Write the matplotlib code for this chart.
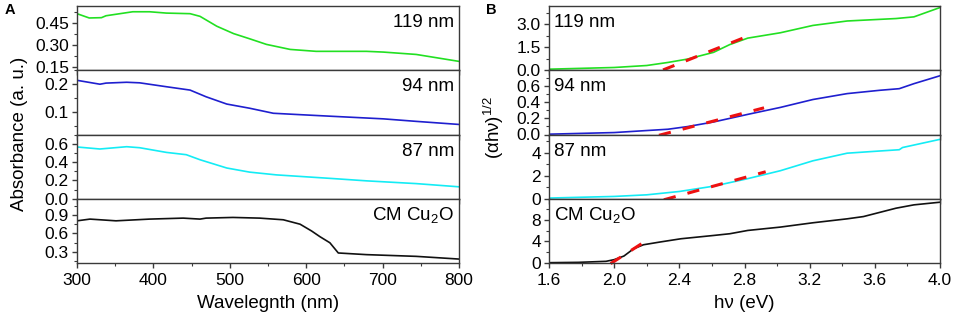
import numpy as np
import matplotlib
matplotlib.use("Agg")
import matplotlib.pyplot as plt
from matplotlib.ticker import AutoMinorLocator, FixedLocator, FormatStrFormatter

plt.rcParams['font.family'] = ['Liberation Sans', 'DejaVu Sans']
plt.rcParams['mathtext.fontset'] = 'custom'
plt.rcParams['mathtext.rm'] = 'Liberation Sans'
plt.rcParams['mathtext.it'] = 'Liberation Sans:italic'

# ---------------- Data: panel A (absorbance vs wavelength) ----------------
wl_119 = [300, 316, 332, 338, 373, 395, 417, 448, 461, 483, 505, 526, 548, 579, 613, 679, 701, 744, 800]
ab_119 = [0.513, 0.484, 0.486, 0.499, 0.526, 0.526, 0.517, 0.513, 0.495, 0.428, 0.378, 0.343, 0.305,
          0.271, 0.258, 0.258, 0.253, 0.237, 0.19]

wl_94 = [300, 330, 338, 365, 382, 417, 448, 469, 496, 526, 557, 592, 635, 701, 744, 800]
ab_94 = [0.214, 0.200, 0.204, 0.207, 0.205, 0.191, 0.179, 0.155, 0.129, 0.114, 0.096, 0.091,
         0.085, 0.076, 0.067, 0.056]

wl_87 = [300, 330, 365, 382, 417, 443, 461, 496, 526, 561, 635, 679, 744, 800]
ab_87 = [0.564, 0.542, 0.567, 0.556, 0.505, 0.48, 0.425, 0.335, 0.29, 0.26, 0.22, 0.195, 0.165, 0.13]

wl_cm = [300, 317, 351, 395, 439, 461, 469, 504, 539, 570, 592, 607, 618, 631, 642, 679, 744, 800]
ab_cm = [0.806, 0.834, 0.806, 0.834, 0.85, 0.834, 0.85, 0.861, 0.85, 0.823, 0.751, 0.641, 0.548,
         0.449, 0.283, 0.256, 0.228, 0.184]

# ---------------- Data: panel B ((alpha h nu)^1/2 vs h nu) ----------------
ev_119 = [1.6, 2.0, 2.2, 2.33, 2.45, 2.61, 2.71, 2.82, 3.02, 3.22, 3.43, 3.73, 3.84, 4.0]
tc_119 = [0.07, 0.18, 0.31, 0.51, 0.73, 1.17, 1.68, 2.1, 2.45, 2.93, 3.22, 3.38, 3.49, 4.1]
fit_119_x = [2.30, 2.805]
fit_119_y = [0.02, 2.16]

ev_94 = [1.6, 2.0, 2.2, 2.33, 2.45, 2.61, 2.82, 3.02, 3.22, 3.43, 3.63, 3.75, 3.84, 4.0]
tc_94 = [0.004, 0.024, 0.049, 0.065, 0.098, 0.155, 0.249, 0.335, 0.433, 0.506, 0.547, 0.567, 0.629, 0.727]
fit_94_x = [2.275, 2.92]
fit_94_y = [-0.01, 0.33]

ev_87 = [1.6, 2.0, 2.2, 2.4, 2.61, 2.81, 3.02, 3.22, 3.43, 3.63, 3.75, 3.77, 4.0]
tc_87 = [0.06, 0.2, 0.34, 0.63, 1.09, 1.71, 2.43, 3.29, 3.95, 4.14, 4.25, 4.44, 5.15]
fit_87_x = [2.305, 2.93]
fit_87_y = [-0.09, 2.34]

ev_cm = [1.6, 1.78, 1.95, 2.0, 2.06, 2.12, 2.18, 2.28, 2.41, 2.61, 2.71, 2.82, 3.02, 3.22, 3.43,
         3.53, 3.73, 3.84, 4.0]
tc_cm = [0.06, 0.12, 0.31, 0.62, 1.29, 2.65, 3.38, 3.88, 4.49, 5.1, 5.42, 6.03, 6.65, 7.45, 8.18,
         8.6, 10.15, 10.77, 11.26]
fit_cm_x = [1.978, 2.19]
fit_cm_y = [-0.12, 4.0]

labels = ['119 nm', '94 nm', '87 nm', 'CM Cu$_2$O']
colors = ['#22e022', '#1f1fcf', '#14ecf5', '#111111']

A_x = [wl_119, wl_94, wl_87, wl_cm]
A_y = [ab_119, ab_94, ab_87, ab_cm]
A_ylim = [(0.13, 0.565), (0.02, 0.25), (0.0, 0.70), (0.12, 1.165)]
A_ticks = [[0.15, 0.30, 0.45], [0.1, 0.2], [0.0, 0.2, 0.4, 0.6], [0.3, 0.6, 0.9]]
A_fmt = ['%.2f', '%.1f', '%.1f', '%.1f']

B_x = [ev_119, ev_94, ev_87, ev_cm]
B_y = [tc_119, tc_94, tc_87, tc_cm]
B_fx = [fit_119_x, fit_94_x, fit_87_x, fit_cm_x]
B_fy = [fit_119_y, fit_94_y, fit_87_y, fit_cm_y]
B_ylim = [(0.0, 4.2), (0.0, 0.795), (0.0, 5.57), (0.0, 11.9)]
B_ticks = [[0.0, 1.5, 3.0], [0.0, 0.2, 0.4, 0.6], [0, 2, 4], [0, 4, 8]]
B_fmt = ['%.1f', '%.1f', '%d', '%d']

W, H = 957, 320
fig = plt.figure(figsize=(W / 100, H / 100), dpi=100)

top_px, bot_px = 6, 263
ph = (bot_px - top_px) / 4.0
spine_c = '#3a3a3a'
TICK_FS = 12.5
TXT_FS = 13.5


def make_axes(x0, x1):
    axs = []
    for i in range(4):
        yt = top_px + i * ph
        ax = fig.add_axes([x0 / W, 1 - (yt + ph) / H, (x1 - x0) / W, ph / H])
        for s in ax.spines.values():
            s.set_color(spine_c)
            s.set_linewidth(1.0)
        ax.tick_params(which='both', direction='out', colors=spine_c, labelcolor='black',
                       labelsize=TICK_FS, top=False, right=False)
        ax.tick_params(which='major', length=3.8, width=1.0, pad=2)
        ax.tick_params(which='minor', length=2.2, width=0.8)
        ax.tick_params(axis='x', which='major', pad=3.5)
        axs.append(ax)
    return axs


# ---- Panel A ----
axA = make_axes(77, 459)
for i, ax in enumerate(axA):
    ax.plot(A_x[i], A_y[i], color=colors[i], lw=1.2)
    ax.set_xlim(300, 800)
    ax.set_ylim(*A_ylim[i])
    ax.yaxis.set_major_locator(FixedLocator(A_ticks[i]))
    ax.yaxis.set_major_formatter(FormatStrFormatter(A_fmt[i]))
    ax.yaxis.set_minor_locator(AutoMinorLocator(2))
    ax.xaxis.set_major_locator(FixedLocator([300, 400, 500, 600, 700, 800]))
    ax.xaxis.set_minor_locator(AutoMinorLocator(2))
    ax.text(0.988, 0.74, labels[i], transform=ax.transAxes, ha='right', va='center', fontsize=TXT_FS)
    if i < 3:
        ax.tick_params(axis='x', labelbottom=False)
axA[3].set_xlabel('Wavelegnth (nm)', fontsize=TXT_FS, labelpad=5)
fig.text(20 / W, 1 - 134 / H, 'Absorbance (a. u.)', rotation=90, ha='center', va='center', fontsize=TXT_FS)
fig.text(5 / W, 1 - 10 / H, 'A', fontsize=10.5, fontweight='bold', ha='left', va='center')

# ---- Panel B ----
axB = make_axes(549, 940)
for i, ax in enumerate(axB):
    ax.plot(B_x[i], B_y[i], color=colors[i], lw=1.2)
    ax.plot(B_fx[i], B_fy[i], color='#ee1111', lw=2.2, dashes=(4.0, 4.0), clip_on=False)
    ax.set_xlim(1.6, 4.0)
    ax.set_ylim(*B_ylim[i])
    ax.yaxis.set_major_locator(FixedLocator(B_ticks[i]))
    ax.yaxis.set_major_formatter(FormatStrFormatter(B_fmt[i]))
    ax.yaxis.set_minor_locator(AutoMinorLocator(2))
    ax.xaxis.set_major_locator(FixedLocator([1.6, 2.0, 2.4, 2.8, 3.2, 3.6, 4.0]))
    ax.xaxis.set_major_formatter(FormatStrFormatter('%.1f'))
    ax.xaxis.set_minor_locator(AutoMinorLocator(2))
    ax.text(0.013, 0.74, labels[i], transform=ax.transAxes, ha='left', va='center', fontsize=TXT_FS)
    if i < 3:
        ax.tick_params(axis='x', labelbottom=False)
axB[3].set_xlabel('h\u03bd (eV)', fontsize=TXT_FS, labelpad=5)
fig.text(494 / W, 1 - 128 / H, '(\u03b1h\u03bd)$^{1/2}$', rotation=90, ha='center', va='center',
         fontsize=TXT_FS)
fig.text(486 / W, 1 - 10 / H, 'B', fontsize=10.5, fontweight='bold', ha='left', va='center')

fig.savefig('out.png', dpi=100)
